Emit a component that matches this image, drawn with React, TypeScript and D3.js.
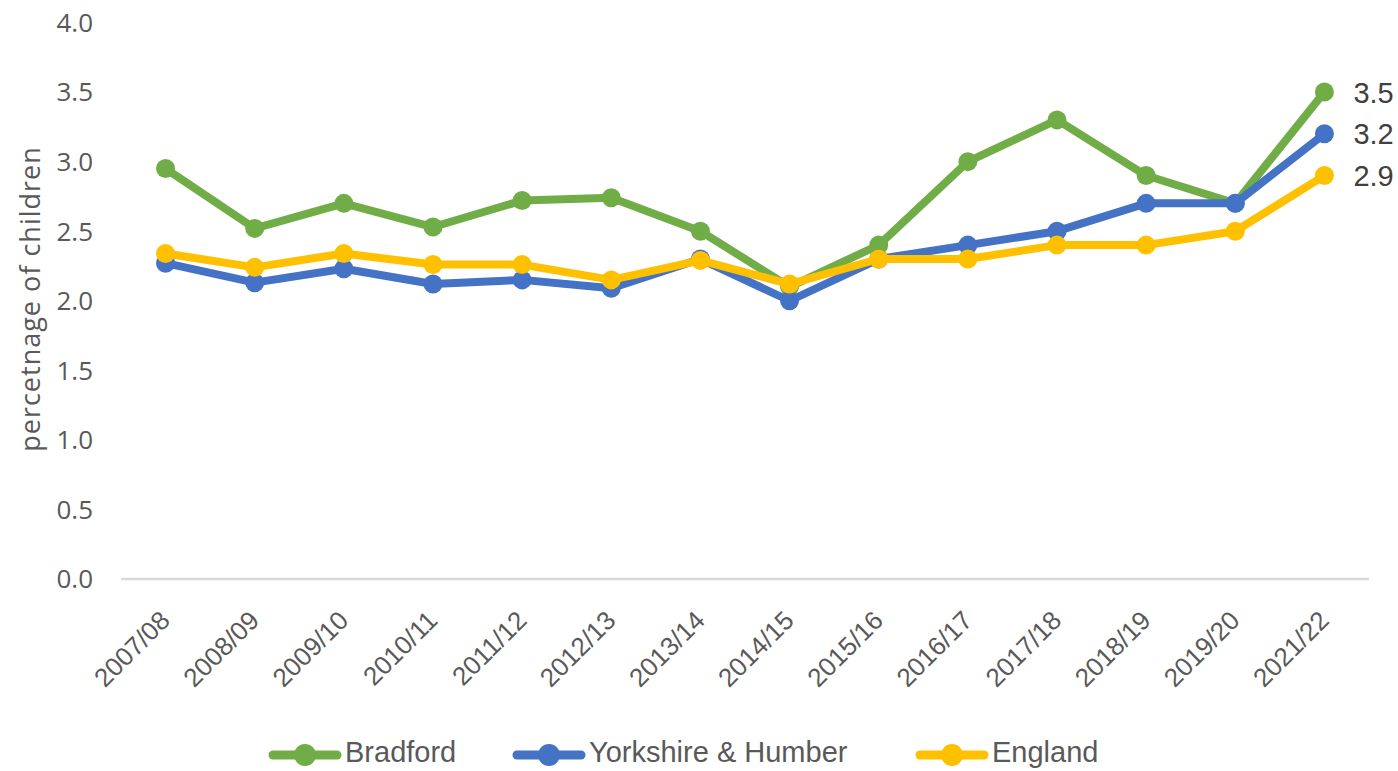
import { useEffect, useRef } from "react";
import * as d3 from "d3";

// School years on the x axis
const years = [
  "2007/08", "2008/09", "2009/10", "2010/11", "2011/12", "2012/13", "2013/14",
  "2014/15", "2015/16", "2016/17", "2017/18", "2018/19", "2019/20", "2021/22",
];

// percentage of children
const bradford = [2.95, 2.52, 2.7, 2.53, 2.72, 2.74, 2.5, 2.1, 2.4, 3.0, 3.3, 2.9, 2.7, 3.5];
const yorkshire = [2.27, 2.13, 2.23, 2.12, 2.15, 2.09, 2.3, 2.0, 2.3, 2.4, 2.5, 2.7, 2.7, 3.2];
const england = [2.34, 2.24, 2.34, 2.26, 2.26, 2.15, 2.29, 2.12, 2.3, 2.3, 2.4, 2.4, 2.5, 2.9];

const yTicks = [0, 0.5, 1, 1.5, 2, 2.5, 3, 3.5, 4];

const seriesNames = ["Bradford", "Yorkshire & Humber", "England"];
const seriesColors = ["#70AD47", "#4472C4", "#FFC000"];

export default function App() {
  const ref = useRef<SVGSVGElement>(null);

  useEffect(() => {
    if (!ref.current) return;
    const svg = d3.select(ref.current);
    svg.selectAll("*").remove();

    const width = 1398;
    const height = 771;
    const left = 121, right = 1369, top = 22.5, bottom = 579;

    const x = d3.scaleBand<string>().domain(years).range([left, right]);
    const y = d3.scaleLinear().domain([0, 4]).range([bottom, top]);
    const cx = (d: string) => (x(d) ?? 0) + x.bandwidth() / 2;

    svg.append("rect").attr("width", width).attr("height", height).attr("fill", "#fff");

    // baseline
    svg.append("line")
      .attr("x1", left).attr("x2", right)
      .attr("y1", y(0)).attr("y2", y(0))
      .attr("stroke", "#d9d9d9").attr("stroke-width", 2.5);

    // y tick labels
    svg.append("g").selectAll("text").data(yTicks).enter().append("text")
      .attr("x", 93).attr("y", d => y(d))
      .attr("dy", "0.36em")
      .attr("text-anchor", "end")
      .attr("font-family", "'Open Sans', sans-serif")
      .attr("font-size", 26)
      .attr("fill", "#595959")
      .text(d => d.toFixed(1));

    // y axis title
    svg.append("text")
      .attr("transform", `translate(40,299) rotate(-90)`)
      .attr("text-anchor", "middle")
      .attr("font-family", "'Open Sans', sans-serif")
      .attr("font-size", 27)
      .attr("letter-spacing", 1)
      .attr("fill", "#595959")
      .text("percetnage of children");

    // x tick labels
    svg.append("g").selectAll("text").data(years).enter().append("text")
      .attr("transform", d => `translate(${cx(d) + 6},${bottom + 43}) rotate(-45)`)
      .attr("text-anchor", "end")
      .attr("font-family", "'Liberation Sans', Arial, sans-serif")
      .attr("font-size", 26)
      .attr("fill", "#595959")
      .text(d => d);

    const data = [bradford, yorkshire, england];
    const line = d3.line<number>()
      .x((_, i) => cx(years[i]))
      .y(d => y(d));

    data.forEach((vals, k) => {
      const g = svg.append("g");
      g.append("path")
        .datum(vals)
        .attr("d", line)
        .attr("fill", "none")
        .attr("stroke", seriesColors[k])
        .attr("stroke-width", 8)
        .attr("stroke-linejoin", "round");
      g.selectAll("circle").data(vals).enter().append("circle")
        .attr("cx", (_, i) => cx(years[i]))
        .attr("cy", d => y(d))
        .attr("r", 9.5)
        .attr("fill", seriesColors[k]);
      // end label
      const last = vals[vals.length - 1];
      g.append("text")
        .attr("x", cx(years[years.length - 1]) + 29)
        .attr("y", y(last))
        .attr("dy", "0.36em")
        .attr("font-family", "'Liberation Sans', Arial, sans-serif")
        .attr("font-size", 29)
        .attr("fill", "#404040")
        .text(last.toFixed(1));
    });

    // legend
    const legendX = [269, 513, 916];
    const ly = 755;
    seriesNames.forEach((name, k) => {
      const g = svg.append("g").attr("transform", `translate(${legendX[k]},${ly})`);
      g.append("line")
        .attr("x1", 4).attr("x2", 68)
        .attr("stroke", seriesColors[k])
        .attr("stroke-width", 9)
        .attr("stroke-linecap", "round");
      g.append("circle").attr("cx", 36).attr("r", 11).attr("fill", seriesColors[k]);
      g.append("text")
        .attr("x", 76)
        .attr("y", 7)
        .attr("font-family", "'Liberation Sans', Arial, sans-serif")
        .attr("font-size", 29)
        .attr("fill", "#595959")
        .text(name);
    });
  }, []);

  return (
    <svg
      ref={ref}
      width={1398}
      height={771}
      style={{ position: "absolute", left: 0, top: 0 }}
    />
  );
}
